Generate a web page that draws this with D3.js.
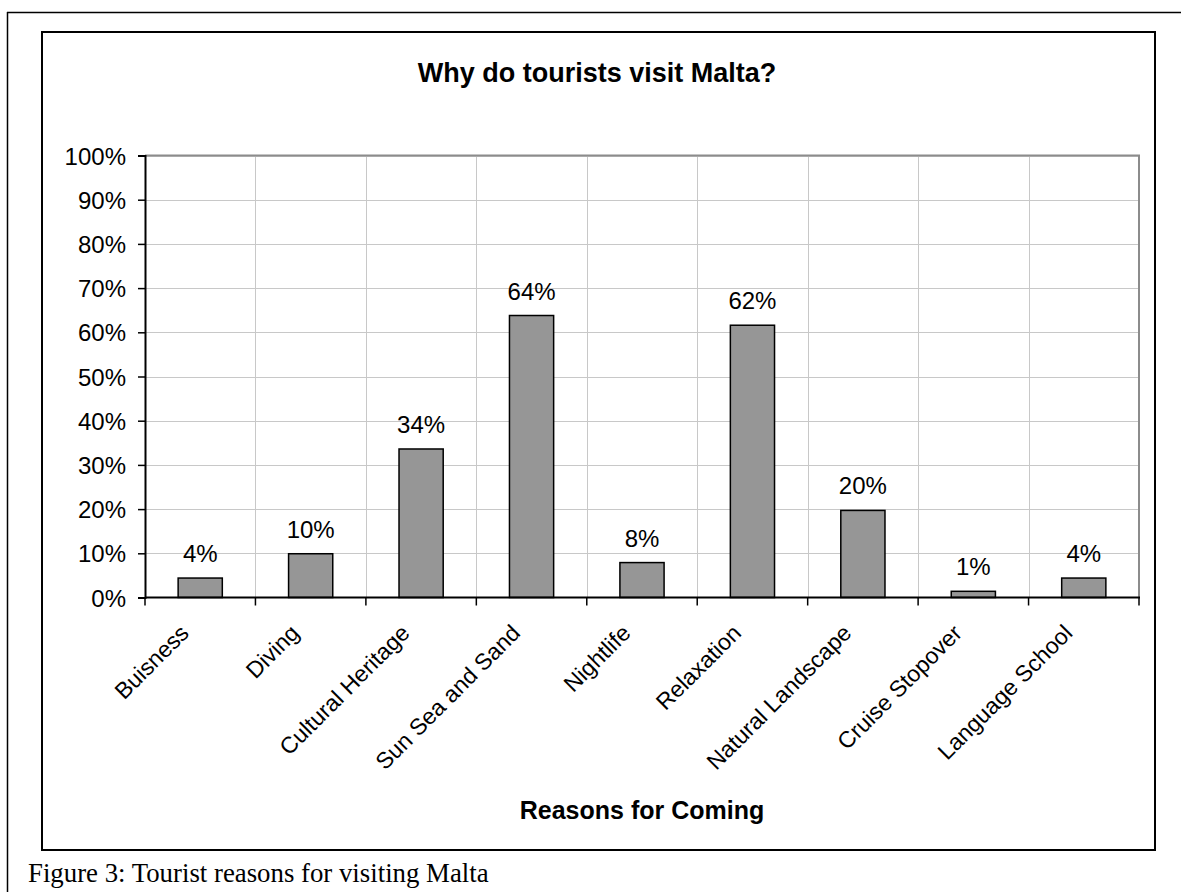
<!DOCTYPE html>
<html>
<head>
<meta charset="utf-8">
<script src="https://cdn.jsdelivr.net/npm/d3@7"></script>
<style>
  html, body { margin: 0; padding: 0; background: #fff; }
  svg { display: block; }
</style>
</head>
<body>
<svg id="chart" width="1181" height="892"></svg>
<script>
const categories = ["Buisness", "Diving", "Cultural Heritage", "Sun Sea and Sand", "Nightlife", "Relaxation", "Natural Landscape", "Cruise Stopover", "Language School"];
const values = [0.044, 0.099, 0.336, 0.638, 0.079, 0.616, 0.197, 0.014, 0.044];
const yTicks = [0, 0.1, 0.2, 0.3, 0.4, 0.5, 0.6, 0.7, 0.8, 0.9, 1.0];
const titleText = "Why do tourists visit Malta?";
const xAxisTitle = "Reasons for Coming";
const captionText = "Figure 3: Tourist reasons for visiting Malta";

const svg = d3.select("#chart");
const font = "Arial, 'Liberation Sans', sans-serif";

// outer figure frame (top + left lines)
svg.append("line").attr("x1", 7).attr("y1", 12.5).attr("x2", 1181).attr("y2", 12.5)
  .attr("stroke", "#000").attr("stroke-width", 1.5);
svg.append("line").attr("x1", 7.5).attr("y1", 12).attr("x2", 7.5).attr("y2", 892)
  .attr("stroke", "#000").attr("stroke-width", 1.5);

// chart area frame
svg.append("rect").attr("x", 42).attr("y", 32).attr("width", 1113).attr("height", 818)
  .attr("fill", "#fff").attr("stroke", "#000").attr("stroke-width", 2);

const plot = { left: 145, right: 1139, top: 155.5, bottom: 597.5 };

const x = d3.scaleBand().domain(categories).range([plot.left, plot.right]).paddingInner(0.6).paddingOuter(0.3);
const xb = d3.scaleLinear().domain([0, categories.length]).range([plot.left, plot.right]);
const y = d3.scaleLinear().domain([0, 1]).range([plot.bottom, plot.top]);

const g = svg.append("g");

// horizontal gridlines
g.selectAll(".hgrid").data(yTicks.slice(1)).enter().append("line")
  .attr("x1", plot.left).attr("x2", plot.right)
  .attr("y1", d => Math.round(y(d)) + 0.5).attr("y2", d => Math.round(y(d)) + 0.5)
  .attr("stroke", "#c8c8c8").attr("stroke-width", 1);

// vertical gridlines at category boundaries
g.selectAll(".vgrid").data(d3.range(1, categories.length)).enter().append("line")
  .attr("x1", d => Math.round(xb(d)) + 0.5).attr("x2", d => Math.round(xb(d)) + 0.5)
  .attr("y1", plot.top).attr("y2", plot.bottom)
  .attr("stroke", "#c8c8c8").attr("stroke-width", 1);

// plot area border (top & right grey)
g.append("path")
  .attr("d", `M${plot.left},${plot.top} H${plot.right} V${plot.bottom}`)
  .attr("fill", "none").attr("stroke", "#8c8c8c").attr("stroke-width", 2);

// bars
g.selectAll(".bar").data(values).enter().append("rect")
  .attr("x", (d, i) => x(categories[i]))
  .attr("width", x.bandwidth())
  .attr("y", d => y(d))
  .attr("height", d => y(0) - y(d))
  .attr("fill", "#969696").attr("stroke", "#000").attr("stroke-width", 1.5);

// data labels
const pct = d3.format(".0%");
g.selectAll(".lbl").data(values).enter().append("text")
  .attr("x", (d, i) => x(categories[i]) + x.bandwidth() / 2)
  .attr("y", d => y(d) - 16)
  .attr("text-anchor", "middle")
  .attr("font-family", font).attr("font-size", 24).attr("fill", "#000")
  .text(d => pct(d));

// y axis
const yAxis = d3.axisLeft(y).tickValues(yTicks).tickFormat(pct).tickSize(7).tickPadding(12);
const ya = svg.append("g").attr("transform", `translate(${plot.left},0)`).call(yAxis);
ya.select(".domain").attr("stroke", "#000").attr("stroke-width", 2);
ya.selectAll(".tick line").attr("stroke", "#000").attr("stroke-width", 1.5);
ya.selectAll(".tick text").attr("font-family", font).attr("font-size", 24).attr("fill", "#000").attr("dy", "0.36em");

// x axis line and ticks at boundaries
const xa = svg.append("g");
xa.append("line").attr("x1", plot.left).attr("x2", plot.right + 1)
  .attr("y1", plot.bottom).attr("y2", plot.bottom)
  .attr("stroke", "#000").attr("stroke-width", 2);
xa.selectAll(".xt").data(d3.range(0, categories.length + 1)).enter().append("line")
  .attr("x1", d => xb(d)).attr("x2", d => xb(d))
  .attr("y1", plot.bottom).attr("y2", plot.bottom + 8)
  .attr("stroke", "#000").attr("stroke-width", 1.5);

// category labels (rotated -45)
xa.selectAll(".cl").data(categories).enter().append("text")
  .attr("transform", d => `translate(${x(d) + x.bandwidth() / 2 - 10},${plot.bottom + 37}) rotate(-45)`)
  .attr("text-anchor", "end")
  .attr("font-family", font).attr("font-size", 23).attr("fill", "#000")
  .text(d => d);

// title
svg.append("text").attr("x", 597).attr("y", 82).attr("text-anchor", "middle")
  .attr("font-family", font).attr("font-size", 27).attr("font-weight", "bold").attr("fill", "#000")
  .text(titleText);

// x axis title
svg.append("text").attr("x", (plot.left + plot.right) / 2).attr("y", 819).attr("text-anchor", "middle")
  .attr("font-family", font).attr("font-size", 25).attr("font-weight", "bold").attr("fill", "#000")
  .text(xAxisTitle);

// caption
svg.append("text").attr("x", 28).attr("y", 882)
  .attr("font-family", "'Times New Roman', 'Liberation Serif', serif").attr("font-size", 26.8).attr("fill", "#000")
  .text(captionText);
</script>
</body>
</html>
